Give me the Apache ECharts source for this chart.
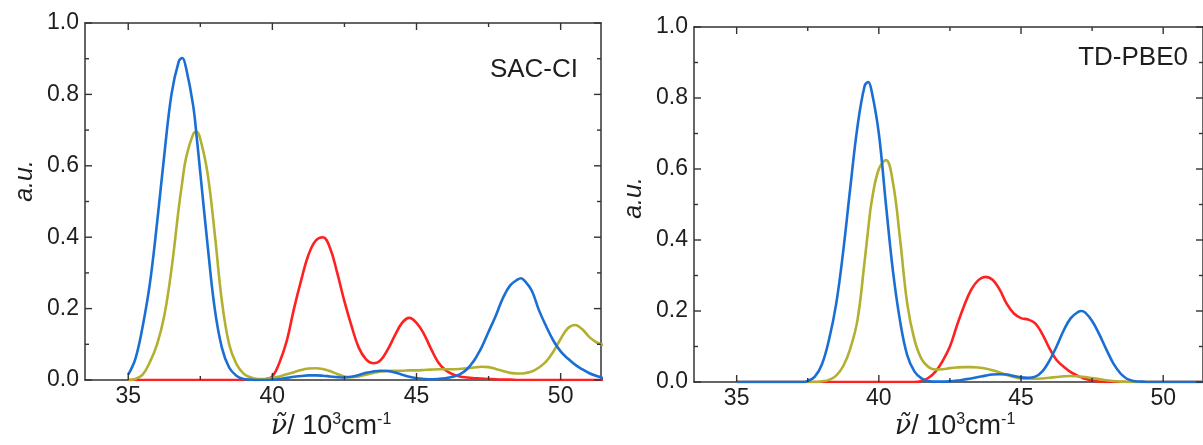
<!DOCTYPE html>
<html><head><meta charset="utf-8">
<script src="https://cdn.jsdelivr.net/npm/echarts@6/dist/echarts.min.js"></script>
<style>html,body{margin:0;padding:0;background:#fff}#c{width:1203px;height:445px}</style>
</head><body><div id="c"></div>
<script>
// wavenumber / 10^3 cm^-1
const wavenumber = [
  35, 35.25, 35.5, 35.75,
  36, 36.25, 36.5, 36.75, 36.875,
  37, 37.25, 37.375, 37.5, 37.75,
  38, 38.25, 38.5, 38.75,
  39, 39.25, 39.5, 39.625, 39.75,
  40, 40.25, 40.5, 40.75,
  41, 41.25, 41.5, 41.75,
  42, 42.25, 42.5, 42.75,
  43, 43.25, 43.5, 43.75,
  44, 44.25, 44.5, 44.75,
  45, 45.25, 45.5, 45.75,
  46, 46.25, 46.5, 46.75,
  47, 47.125, 47.25, 47.5, 47.75,
  48, 48.25, 48.5, 48.625, 48.75,
  49, 49.25, 49.5, 49.75,
  50, 50.25, 50.5, 50.75,
  51, 51.25, 51.5
];
const xRange = [33.5, 51.4];
const yRange = [0, 1];
const xTicks = [35, 40, 45, 50];
const xMinorTicks = [37.5, 42.5, 47.5];
const yTicks = [0, 0.2, 0.4, 0.6, 0.8, 1.0];
const yMinorTicks = [0.1, 0.3, 0.5, 0.7, 0.9];
const panelLabels = ['SAC-CI', 'TD-PBE0'];
const yAxisName = 'a.u.';

// SAC-CI panel
const sacBlue = [
  .015, .06, .15, .27,
  .44, .63, .80, .892, .902,
  .876, .77, .68, .58, .38,
  .20, .09, .035, .012,
  .003, .001, 0, 0, 0,
  .001, .003, .006, .009,
  .011, .013, .013, .012,
  .010, .008, .007, .009,
  .014, .020, .024, .026,
  .025, .021, .015, .009,
  .005, .003, .002, .003,
  .005, .009, .016, .030,
  .055, .072, .090, .135, .180,
  .230, .265, .281, .285, .278,
  .250, .195, .150, .110,
  .080, .060, .043, .030,
  .019, .011, .005
];
const sacOlive = [
  0, .003, .015, .05,
  .10, .18, .31, .48, .555,
  .62, .688, .696, .675, .58,
  .41, .22, .10, .045,
  .018, .007, .003, .003, .003,
  .006, .010, .016, .022,
  .028, .032, .033, .031,
  .025, .017, .010, .008,
  .010, .015, .020, .024,
  .025, .026, .026, .027,
  .027, .028, .029, .030,
  .030, .030, .031, .033,
  .035, .036, .037, .036, .031,
  .025, .020, .018, .018, .019,
  .024, .035, .052, .080,
  .115, .145, .154, .142,
  .120, .105, .098
];
const sacRed = [
  0, 0, 0, 0,
  0, 0, 0, 0, 0,
  0, 0, 0, 0, 0,
  0, 0, 0, 0,
  0, 0, 0, .001, .002,
  .010, .050, .110, .200,
  .280, .350, .390, .400,
  .370, .300, .220, .150,
  .090, .058, .047, .055,
  .085, .125, .160, .174,
  .160, .130, .088, .050,
  .028, .016, .010, .007,
  .005, .0045, .004, .003, .002,
  .001, .001, 0, 0, 0,
  0, 0, 0, 0,
  0, 0, 0, 0,
  0, 0, 0
];

// TD-PBE0 panel
const pbeBlue = [
  0, 0, 0, 0,
  0, 0, 0, 0, 0,
  0, 0, 0, .003, .015,
  .05, .12, .22, .37,
  .55, .72, .834, .845, .818,
  .70, .50, .31, .17,
  .075, .03, .01, .003,
  .001, .001, .002, .004,
  .007, .010, .014, .018,
  .021, .022, .021, .017,
  .013, .012, .015, .030,
  .060, .100, .145, .180,
  .197, .200, .196, .172, .135,
  .092, .052, .024, .015, .008,
  .002, .001, 0, 0,
  0, 0, 0, 0,
  0, 0, 0
];
const pbeOlive = [
  0, 0, 0, 0,
  0, 0, 0, 0, 0,
  0, 0, 0, 0, 0,
  .002, .006, .018, .045,
  .095, .175, .34, .43, .51,
  .60, .625, .56, .40,
  .22, .12, .065, .042,
  .035, .036, .039, .041,
  .042, .042, .041, .038,
  .033, .027, .020, .014,
  .010, .009, .009, .010,
  .012, .014, .016, .017,
  .016, .015, .014, .011, .008,
  .005, .003, .001, .001, 0,
  0, 0, 0, 0,
  0, 0, 0, 0,
  0, 0, 0
];
const pbeRed = [
  0, 0, 0, 0,
  0, 0, 0, 0, 0,
  0, 0, 0, 0, 0,
  0, 0, 0, 0,
  0, 0, 0, 0, 0,
  0, 0, 0, 0,
  0, 0, .003, .012,
  .03, .06, .10, .16,
  .215, .26, .287, .296,
  .288, .26, .22, .193,
  .18, .176, .165, .135,
  .095, .062, .043, .028,
  .017, .013, .009, .004, .001,
  0, 0, 0, 0, 0,
  0, 0, 0, 0,
  0, 0, 0, 0,
  0, 0, 0
];

const panels = [
  {blue: sacBlue, olive: sacOlive, red: sacRed},
  {blue: pbeBlue, olive: pbeOlive, red: pbeRed}
];

const BLUE = '#1a6fd4', OLIVE = '#b2b030', RED = '#ff2020';
const AX = '#333333';
const TXT = '#1e1e1e';
const FONT = 'Liberation Sans';
const MAJOR_LEN = 7, MINOR_LEN = 4;

const grids = [
  {left: 85, top: 23, width: 516, height: 357},
  {left: 694, top: 27, width: 514, height: 355}
];

function pairs(ys) { return wavenumber.map((x, i) => [x, ys[i]]); }

// inward tick marks, one custom series per side, placed with the axes' own scales
function tickSeries(xi, yi, side, values, len) {
  const data = values.map(v =>
    side === 'bottom' ? [v, yRange[0]] :
    side === 'top' ? [v, yRange[1]] :
    side === 'left' ? [xRange[0], v] : [xRange[1], v]);
  return {
    type: 'custom', xAxisIndex: xi, yAxisIndex: yi, clip: false, silent: true,
    zlevel: 1, z: 10, data: data,
    renderItem: (params, api) => {
      const pt = api.coord([api.value(0), api.value(1)]);
      let x2 = pt[0], y2 = pt[1];
      if (side === 'bottom') y2 -= len;
      else if (side === 'top') y2 += len;
      else if (side === 'left') x2 += len;
      else x2 -= len;
      return {type: 'line', shape: {x1: pt[0], y1: pt[1], x2: x2, y2: y2},
        style: {stroke: AX, lineWidth: 1.4}};
    }
  };
}

const lineStyleAx = {color: AX, width: 1.5};
const xAxes = [], yAxes = [], series = [];
grids.forEach((g, gi) => {
  const base = {gridIndex: gi, type: 'value', min: xRange[0], max: xRange[1], splitLine: {show: false},
    axisTick: {show: false}, minorTick: {show: false}};
  xAxes.push(Object.assign({}, base, {
    position: 'bottom',
    axisLine: {show: true, onZero: false, lineStyle: lineStyleAx},
    axisLabel: {show: true, customValues: xTicks, margin: 5, fontSize: 23, fontFamily: FONT, color: TXT}
  }));
  xAxes.push(Object.assign({}, base, {
    position: 'top',
    axisLine: {show: true, onZero: false, lineStyle: lineStyleAx},
    axisLabel: {show: false}
  }));
  const ybase = {gridIndex: gi, type: 'value', min: yRange[0], max: yRange[1], interval: 0.2,
    splitLine: {show: false}, axisTick: {show: false}, minorTick: {show: false}};
  yAxes.push(Object.assign({}, ybase, {
    position: 'left',
    axisLine: {show: true, onZero: false, lineStyle: lineStyleAx},
    axisLabel: {show: true, margin: 6, fontSize: 23, fontFamily: FONT, color: TXT,
      formatter: v => v.toFixed(1)}
  }));
  yAxes.push(Object.assign({}, ybase, {
    position: 'right',
    axisLine: {show: true, onZero: false, lineStyle: lineStyleAx},
    axisLabel: {show: false}
  }));
  const xi = gi * 2, yi = gi * 2;
  const p = panels[gi];
  [[p.red, RED], [p.olive, OLIVE], [p.blue, BLUE]].forEach(([d, c]) => {
    series.push({
      type: 'line', xAxisIndex: xi, yAxisIndex: yi, data: pairs(d),
      smooth: 0.4, showSymbol: false, symbol: 'none', clip: true,
      lineStyle: {color: c, width: 2.6}, itemStyle: {color: c}, z: 3
    });
  });
  ['bottom', 'top'].forEach(s => {
    series.push(tickSeries(xi, yi, s, xTicks, MAJOR_LEN));
    series.push(tickSeries(xi, yi, s, xMinorTicks, MINOR_LEN));
  });
  ['left', 'right'].forEach(s => {
    series.push(tickSeries(xi, yi, s, yTicks, MAJOR_LEN));
    series.push(tickSeries(xi, yi, s, yMinorTicks, MINOR_LEN));
  });
});

const xNameRich = {
  nu: {fontFamily: 'DejaVu Serif', fontStyle: 'italic', fontSize: 27, fill: TXT, lineHeight: 30},
  t: {fontFamily: FONT, fontSize: 27, fill: TXT, lineHeight: 30},
  sup: {fontFamily: FONT, fontSize: 16, fill: TXT, lineHeight: 30, verticalAlign: 'top', padding: [0, 0, 12, 0]}
};
const xNameText = '{nu|\u03BD\u0303}{t|/ 10}{sup|3}{t|cm}{sup|-1}';

const graphic = [
  {type: 'text', x: 578, y: 70, z: 10,
    style: {text: panelLabels[0], fontFamily: FONT, fontSize: 26, fill: TXT, align: 'right', verticalAlign: 'middle'}},
  {type: 'text', x: 1188, y: 58, z: 10,
    style: {text: panelLabels[1], fontFamily: FONT, fontSize: 26, fill: TXT, align: 'right', verticalAlign: 'middle'}},
  {type: 'text', x: 25, y: 181, rotation: Math.PI / 2, z: 10,
    style: {text: yAxisName, fontFamily: FONT, fontStyle: 'italic', fontSize: 25, fill: TXT, align: 'center', verticalAlign: 'middle'}},
  {type: 'text', x: 634, y: 198, rotation: Math.PI / 2, z: 10,
    style: {text: yAxisName, fontFamily: FONT, fontStyle: 'italic', fontSize: 25, fill: TXT, align: 'center', verticalAlign: 'middle'}},
  {type: 'text', x: 331, y: 427, z: 10,
    style: {text: xNameText, rich: xNameRich, align: 'center', verticalAlign: 'middle'}},
  {type: 'text', x: 955, y: 427, z: 10,
    style: {text: xNameText, rich: xNameRich, align: 'center', verticalAlign: 'middle'}}
];

const chart = echarts.init(document.getElementById('c'), null, {renderer: 'canvas'});
chart.setOption({
  animation: false,
  backgroundColor: '#ffffff',
  grid: grids.map(g => Object.assign({containLabel: false}, g)),
  xAxis: xAxes,
  yAxis: yAxes,
  series: series,
  graphic: graphic
});
</script>
</body></html>
